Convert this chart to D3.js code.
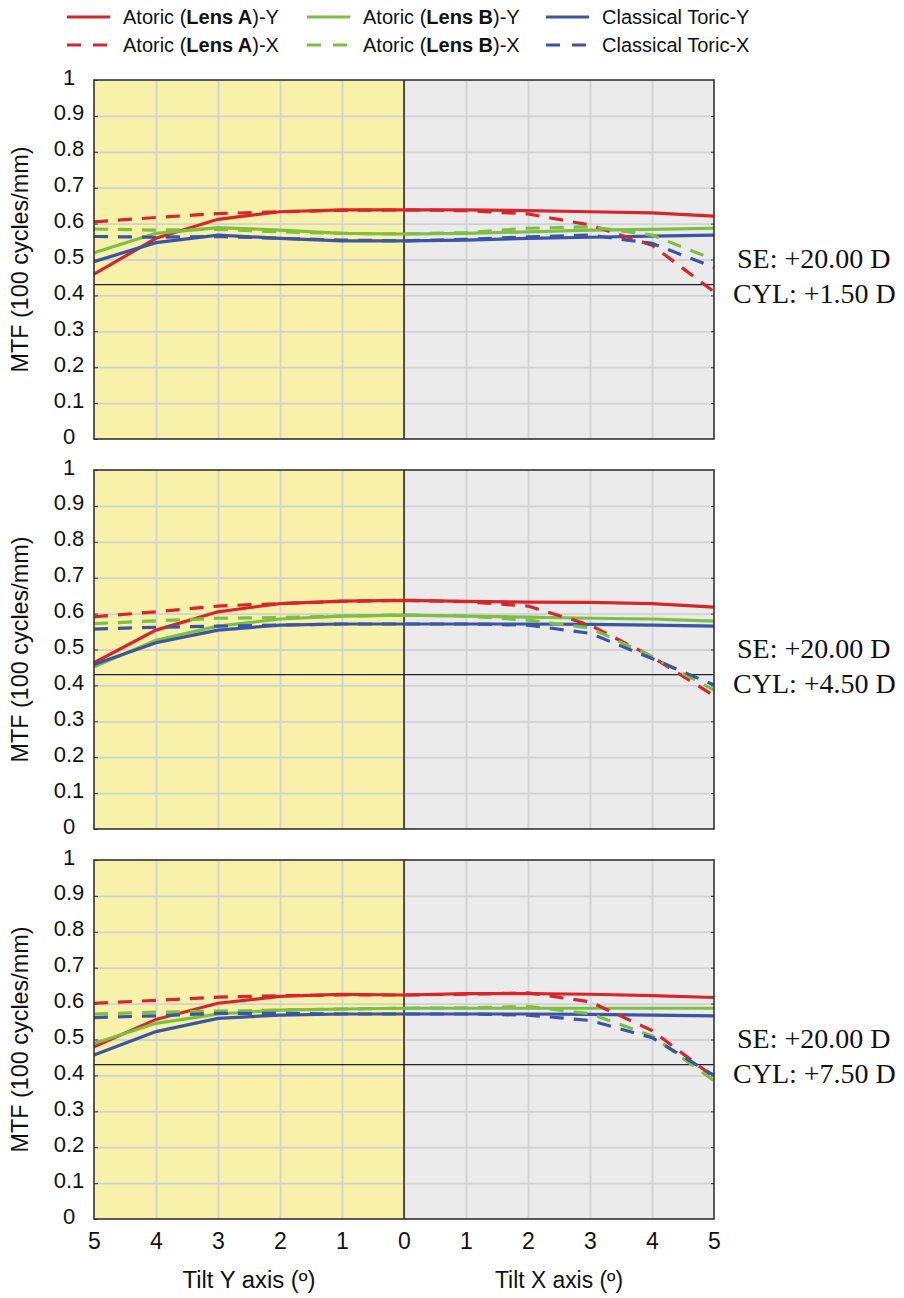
<!DOCTYPE html>
<html>
<head>
<meta charset="utf-8">
<script src="https://cdn.jsdelivr.net/npm/d3@7"></script>
<style>
body { margin: 0; background: #fff; }
.sans { font-family: 'Liberation Sans', Arial, sans-serif; }
.serif { font-family: 'Liberation Serif', 'Times New Roman', serif; }
</style>
</head>
<body>
<div id="chart"></div>
<script>
// tilt positions: left half is tilt about Y (5 -> 0), right half tilt about X (0 -> 5)
var tiltPos = [-5, -4, -3, -2, -1, 0, 1, 2, 3, 4, 5];
var tiltLabels = ["5", "4", "3", "2", "1", "0", "1", "2", "3", "4", "5"];
var yTicks = [0, 0.1, 0.2, 0.3, 0.4, 0.5, 0.6, 0.7, 0.8, 0.9, 1];
var yTickLabels = ["0", "0.1", "0.2", "0.3", "0.4", "0.5", "0.6", "0.7", "0.8", "0.9", "1"];
var isoLimit = 0.43;
var seText = "SE: +20.00 D";
var cylText = ["CYL: +1.50 D", "CYL: +4.50 D", "CYL: +7.50 D"];

var seriesColors = ["#d7262b", "#7dbf43", "#3b55a5"];

// CYL +1.50 D
var cyl150_A_Y = [0.459, 0.559, 0.612, 0.633, 0.638, 0.638, 0.638, 0.636, 0.633, 0.630, 0.621];
var cyl150_A_X = [0.605, 0.617, 0.628, 0.633, 0.637, 0.638, 0.636, 0.627, 0.596, 0.540, 0.410];
var cyl150_B_Y = [0.519, 0.573, 0.589, 0.582, 0.573, 0.571, 0.573, 0.577, 0.582, 0.584, 0.587];
var cyl150_B_X = [0.585, 0.582, 0.584, 0.577, 0.573, 0.571, 0.575, 0.587, 0.591, 0.568, 0.500];
var cyl150_T_Y = [0.494, 0.547, 0.568, 0.559, 0.552, 0.552, 0.554, 0.559, 0.562, 0.565, 0.568];
var cyl150_T_X = [0.564, 0.562, 0.564, 0.559, 0.554, 0.552, 0.556, 0.563, 0.568, 0.545, 0.478];

// CYL +4.50 D
var cyl450_A_Y = [0.463, 0.554, 0.605, 0.628, 0.635, 0.637, 0.634, 0.632, 0.631, 0.628, 0.618];
var cyl450_A_X = [0.591, 0.605, 0.621, 0.628, 0.634, 0.637, 0.633, 0.621, 0.568, 0.480, 0.371];
var cyl450_B_Y = [0.452, 0.526, 0.565, 0.585, 0.593, 0.596, 0.593, 0.590, 0.587, 0.585, 0.579];
var cyl450_B_X = [0.572, 0.580, 0.587, 0.589, 0.593, 0.596, 0.593, 0.582, 0.560, 0.480, 0.387];
var cyl450_T_Y = [0.458, 0.519, 0.554, 0.568, 0.571, 0.571, 0.571, 0.571, 0.570, 0.568, 0.565];
var cyl450_T_X = [0.557, 0.562, 0.565, 0.568, 0.571, 0.571, 0.571, 0.568, 0.545, 0.475, 0.401];

// CYL +7.50 D
var cyl750_A_Y = [0.480, 0.556, 0.601, 0.620, 0.626, 0.624, 0.628, 0.628, 0.626, 0.622, 0.617];
var cyl750_A_X = [0.601, 0.609, 0.618, 0.622, 0.624, 0.624, 0.626, 0.630, 0.605, 0.525, 0.395];
var cyl750_B_Y = [0.489, 0.545, 0.571, 0.582, 0.585, 0.587, 0.587, 0.587, 0.587, 0.587, 0.587];
var cyl750_B_X = [0.571, 0.576, 0.579, 0.582, 0.585, 0.587, 0.588, 0.592, 0.572, 0.510, 0.385];
var cyl750_T_Y = [0.457, 0.522, 0.559, 0.568, 0.571, 0.571, 0.571, 0.571, 0.570, 0.568, 0.566];
var cyl750_T_X = [0.561, 0.566, 0.573, 0.573, 0.571, 0.571, 0.571, 0.568, 0.553, 0.505, 0.400];

var panels = [
	{ cyl: cylText[0], solid: [cyl150_A_Y, cyl150_B_Y, cyl150_T_Y], dashed: [cyl150_A_X, cyl150_B_X, cyl150_T_X] },
	{ cyl: cylText[1], solid: [cyl450_A_Y, cyl450_B_Y, cyl450_T_Y], dashed: [cyl450_A_X, cyl450_B_X, cyl450_T_X] },
	{ cyl: cylText[2], solid: [cyl750_A_Y, cyl750_B_Y, cyl750_T_Y], dashed: [cyl750_A_X, cyl750_B_X, cyl750_T_X] }
];

var width = 904, height = 1298;
var left = 94, plotW = 620, plotH = 359;
var panelTops = [80, 470, 860];
var dash = "14,10";

var svg = d3.select("#chart").append("svg")
	.attr("width", width)
	.attr("height", height);

var x = d3.scaleLinear().domain([-5, 5]).range([0, plotW]);
var y = d3.scaleLinear().domain([0, 1]).range([plotH, 0]);

var line = d3.line()
	.x(function(d, i) { return x(tiltPos[i]); })
	.y(function(d) { return y(d); });

panels.forEach(function(p, k) {
	var g = svg.append("g")
		.attr("transform", "translate(" + left + "," + panelTops[k] + ")");

	g.append("rect")
		.attr("x", 0).attr("y", 0)
		.attr("width", x(0)).attr("height", plotH)
		.attr("fill", "#f7f1aa");
	g.append("rect")
		.attr("x", x(0)).attr("y", 0)
		.attr("width", plotW - x(0)).attr("height", plotH)
		.attr("fill", "#ebebeb");

	// grid
	g.append("g")
		.attr("class", "grid")
		.call(d3.axisLeft(y).tickValues(yTicks.slice(1, 10)).tickSize(-plotW).tickFormat(""))
		.call(function(s) { s.select(".domain").remove(); })
		.selectAll("line").attr("stroke", "#d2d2d4").attr("stroke-width", 1.8);
	g.append("g")
		.attr("class", "grid")
		.attr("transform", "translate(0," + plotH + ")")
		.call(d3.axisBottom(x).tickValues(tiltPos.slice(1, 10)).tickSize(-plotH).tickFormat(""))
		.call(function(s) { s.select(".domain").remove(); })
		.selectAll("line").attr("stroke", "#d2d2d4").attr("stroke-width", 1.8);

	// small ticks on both sides
	g.append("g")
		.call(d3.axisLeft(y).tickValues(yTicks).tickSize(-4).tickFormat(""))
		.call(function(s) { s.select(".domain").remove(); })
		.selectAll("line").attr("stroke", "#333");
	g.append("g")
		.attr("transform", "translate(" + plotW + ",0)")
		.call(d3.axisRight(y).tickValues(yTicks.slice(1, 10)).tickSize(3).tickFormat(""))
		.call(function(s) { s.select(".domain").remove(); })
		.selectAll("line").attr("stroke", "#333").attr("transform", "translate(-3,0)");

	// y tick labels, centred
	g.append("g")
		.attr("class", "yaxis sans")
		.call(d3.axisLeft(y).tickValues(yTicks).tickSize(0).tickFormat(function(d, i) { return yTickLabels[i]; }))
		.call(function(s) { s.select(".domain").remove(); })
		.selectAll("text")
		.attr("x", -25)
		.attr("dy", "0.32em")
		.attr("transform", "translate(0,-3)")
		.style("text-anchor", "middle")
		.style("font-size", "22px")
		.style("font-family", null)
		.attr("fill", "#111");

	// ISO limit
	g.append("line")
		.attr("x1", 0).attr("x2", plotW)
		.attr("y1", y(isoLimit)).attr("y2", y(isoLimit))
		.attr("stroke", "#222").attr("stroke-width", 1.3);

	// centre divider
	g.append("line")
		.attr("x1", x(0)).attr("x2", x(0))
		.attr("y1", 0).attr("y2", plotH)
		.attr("stroke", "#222").attr("stroke-width", 1.5);

	p.solid.forEach(function(s, i) {
		g.append("path")
			.datum(s)
			.attr("d", line)
			.attr("fill", "none")
			.attr("stroke", seriesColors[i])
			.attr("stroke-width", 3.2);
	});
	p.dashed.forEach(function(s, i) {
		g.append("path")
			.datum(s)
			.attr("d", line)
			.attr("fill", "none")
			.attr("stroke", seriesColors[i])
			.attr("stroke-width", 3.2)
			.attr("stroke-dasharray", dash);
	});

	// frame
	g.append("rect")
		.attr("width", plotW).attr("height", plotH)
		.attr("fill", "none")
		.attr("stroke", "#333").attr("stroke-width", 1.6);

	g.append("text")
		.attr("transform", "rotate(-90)")
		.attr("class", "sans")
		.attr("x", -plotH / 2)
		.attr("y", -66)
		.style("text-anchor", "middle")
		.style("font-size", "24px")
		.attr("textLength", 226)
		.attr("lengthAdjust", "spacingAndGlyphs")
		.attr("fill", "#111")
		.text("MTF (100 cycles/mm)");

	g.append("text")
		.attr("class", "serif")
		.attr("x", plotW + 23)
		.attr("y", 188)
		.style("font-size", "28px")
		.attr("fill", "#111")
		.text(seText);
	g.append("text")
		.attr("class", "serif")
		.attr("x", plotW + 19)
		.attr("y", 223)
		.style("font-size", "28px")
		.attr("fill", "#111")
		.text(p.cyl);
});

// bottom tilt axis
var xax = svg.append("g")
	.attr("class", "xaxis sans")
	.attr("transform", "translate(" + left + "," + (panelTops[2] + plotH) + ")")
	.call(d3.axisBottom(x).tickValues(tiltPos).tickSize(0).tickPadding(14).tickFormat(function(d, i) { return tiltLabels[i]; }));
xax.select(".domain").remove();
xax.attr("font-family", null);
xax.selectAll("text")
	.style("font-size", "23px")
	.attr("fill", "#111");

xax.append("text")
	.attr("x", x(-2.5))
	.attr("y", 69)
	.style("text-anchor", "middle")
	.style("font-size", "23px")
	.attr("textLength", 133)
	.attr("lengthAdjust", "spacingAndGlyphs")
	.attr("fill", "#111")
	.text("Tilt Y axis (º)");
xax.append("text")
	.attr("x", x(2.5))
	.attr("y", 69)
	.style("text-anchor", "middle")
	.style("font-size", "23px")
	.attr("textLength", 128)
	.attr("lengthAdjust", "spacingAndGlyphs")
	.attr("fill", "#111")
	.text("Tilt X axis (º)");

// legend
var legendCols = [67, 307, 546];
var legendRows = [17, 45];
var legendLabels = [
	["Atoric (", "Lens A", ")-Y"], ["Atoric (", "Lens B", ")-Y"], ["Classical Toric-Y", "", ""],
	["Atoric (", "Lens A", ")-X"], ["Atoric (", "Lens B", ")-X"], ["Classical Toric-X", "", ""]
];
legendLabels.forEach(function(lab, n) {
	var col = n % 3, row = Math.floor(n / 3);
	var lg = svg.append("g")
		.attr("transform", "translate(" + legendCols[col] + "," + legendRows[row] + ")");
	lg.append("line")
		.attr("x1", 0).attr("x2", 43)
		.attr("stroke", seriesColors[col])
		.attr("stroke-width", 3.2)
		.attr("stroke-dasharray", row == 1 ? "14,12" : null);
	var t = lg.append("text")
		.attr("class", "sans")
		.attr("x", 56)
		.attr("dy", "0.35em")
		.style("font-size", "20px")
		.attr("fill", "#111");
	t.append("tspan").text(lab[0]);
	if (lab[1]) t.append("tspan").style("font-weight", "bold").text(lab[1]);
	if (lab[2]) t.append("tspan").text(lab[2]);
});
</script>
</body>
</html>
